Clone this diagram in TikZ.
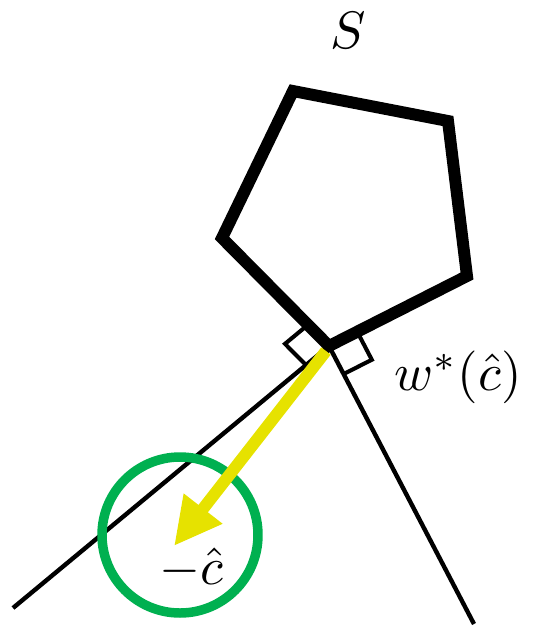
\documentclass[tikz,border=0pt]{standalone}
\usetikzlibrary{arrows.meta,calc}
\definecolor{cgreen}{RGB}{0,176,80}
\definecolor{cyellow}{RGB}{230,226,0}
\tikzset{
  thinline/.style={line width=2.5pt,black},
  poly/.style={line width=6.8pt,black,line join=miter},
  rmark/.style={line width=2.3pt,black},
  lbl/.style={inner sep=0pt},
}
\newcommand{\mylabelscale}[1]{\scalebox{3}{#1}}
\begin{document}
\begin{tikzpicture}[x=0.02cm,y=-0.02cm]
\useasboundingbox (0,0) rectangle (543,627);
% vertices
\coordinate (A) at (293,91);
\coordinate (B) at (448,121);
\coordinate (C) at (467,276);
\coordinate (V) at (329,346);
\coordinate (E) at (222,238);
\coordinate (L1) at (13,608);
\coordinate (L2) at (474,624);
% normal cone lines
\draw[thinline] (V) -- (L1);
\draw[thinline] (V) -- (L2);
% right angle marks
\coordinate (p1) at ($(V)!17pt!(E)$);
\coordinate (p2) at ($(V)!17pt!(L1)$);
\draw[rmark] (p1) -- ($(p1)+(p2)-(V)$) -- (p2);
\coordinate (q1) at ($(V)!18pt!(C)$);
\coordinate (q2) at ($(V)!18pt!(L2)$);
\draw[rmark] (q1) -- ($(q1)+(q2)-(V)$) -- (q2);
% pentagon
\draw[poly] (A) -- (B) -- (C) -- (V) -- (E) -- cycle;
% green circle
\node[draw=cgreen,line width=5.4pt,circle,minimum size=156*0.02cm,inner sep=0pt] (circ) at (180,535) {};
% yellow arrow
\coordinate (ys) at (326,351);
\coordinate (yt) at (174,546);
\draw[cyellow,line width=6.8pt,-{Triangle[length=27pt,width=26pt]}] (ys) -- (yt);
% labels
\node[lbl] (S) at (348,30) {\mylabelscale{$S$}};
\node[lbl] (w) at (458,377) {\mylabelscale{$w^*(\hat{c})$}};
\node[lbl] (c) at (191,568) {\mylabelscale{$-\hat{c}$}};
\end{tikzpicture}
\end{document}
